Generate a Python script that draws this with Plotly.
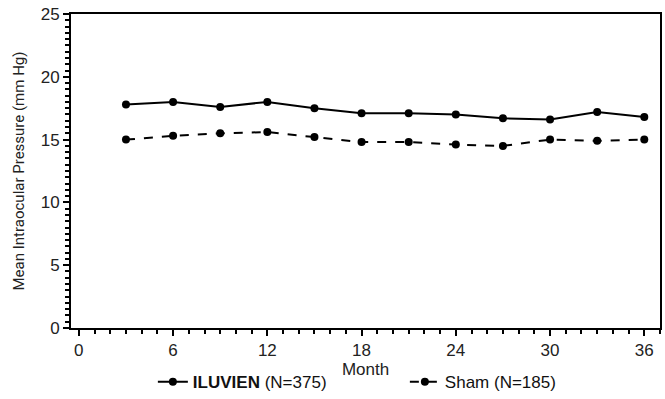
import plotly.graph_objects as go

months = [3, 6, 9, 12, 15, 18, 21, 24, 27, 30, 33, 36]
iluvien = [17.8, 18.0, 17.6, 18.0, 17.5, 17.1, 17.1, 17.0, 16.7, 16.6, 17.2, 16.8]
sham = [15.0, 15.3, 15.5, 15.6, 15.2, 14.8, 14.8, 14.6, 14.5, 15.0, 14.9, 15.0]
x_ticks = [0, 6, 12, 18, 24, 30, 36]
y_ticks = [0, 5, 10, 15, 20, 25]

fig = go.Figure()
fig.add_trace(go.Scatter(
    x=months, y=iluvien, mode="lines+markers",
    name="<b>ILUVIEN</b> (N=375)",
    line=dict(color="black", width=2),
    marker=dict(color="black", size=8),
))
fig.add_trace(go.Scatter(
    x=months, y=sham, mode="lines+markers",
    name="Sham (N=185)",
    line=dict(color="black", width=2, dash="dash"),
    marker=dict(color="black", size=8),
))

font_main = "Liberation Sans, Arial, sans-serif"

fig.update_layout(
    width=665, height=399,
    margin=dict(l=71, r=5, t=14, b=71, autoexpand=False),
    paper_bgcolor="white", plot_bgcolor="white",
    font=dict(family=font_main, color="#222", size=15),
    showlegend=True,
    legend=dict(
        orientation="h", x=0.139, xanchor="left", y=-0.115, yanchor="top",
        font=dict(size=17, color="#111"),
        entrywidth=207, entrywidthmode="pixels",
        bgcolor="rgba(0,0,0,0)",
    ),
    xaxis=dict(
        range=[-0.5, 37.0],
        tickmode="array", tickvals=x_ticks, ticktext=[str(v) for v in x_ticks],
        ticks="outside", ticklen=6, tickwidth=1.5, tickcolor="black",
        minor=dict(dtick=1, ticks="outside", ticklen=4, tickwidth=1.5, tickcolor="black"),
        showline=True, linecolor="black", linewidth=2,
        mirror=True, showgrid=False, zeroline=False,
        tickfont=dict(size=17, color="#222"),
        title=dict(text="Month", font=dict(size=17, color="#222"), standoff=2),
    ),
    yaxis=dict(
        range=[0, 25],
        tickmode="array", tickvals=y_ticks, ticktext=[str(v) for v in y_ticks],
        ticks="outside", ticklen=6, tickwidth=1.5, tickcolor="black",
        minor=dict(dtick=0.5, ticks="outside", ticklen=4, tickwidth=1.5, tickcolor="black"),
        showline=True, linecolor="black", linewidth=2,
        mirror=True, showgrid=False, zeroline=False,
        tickfont=dict(size=17, color="#222"),
        title=dict(text="Mean Intraocular Pressure (mm Hg)",
                   font=dict(family="Liberation Sans Narrow, Roboto, sans-serif", size=15, color="#222"),
                   standoff=12),
    ),
)

fig.write_html("out.html")
